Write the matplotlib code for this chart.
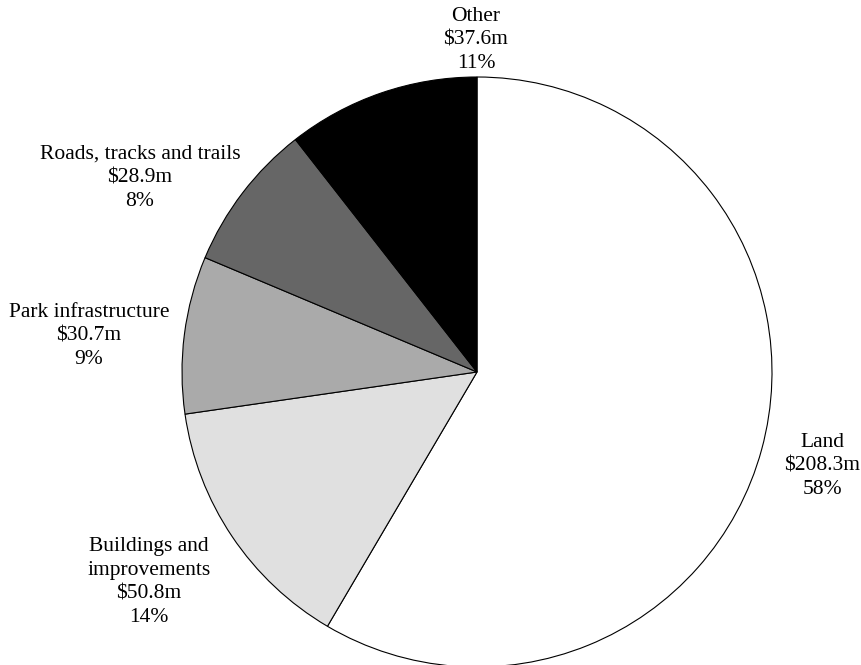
import matplotlib.pyplot as plt

plt.rcParams['font.family'] = 'Liberation Serif'

# capital spend by asset class
categories = ['Land', 'Buildings and\nimprovements', 'Park infrastructure',
              'Roads, tracks and trails', 'Other']
values = [208.3, 50.8, 30.7, 28.9, 37.6]
percents = [58, 14, 9, 8, 11]
colors = ['#ffffff', '#e0e0e0', '#aaaaaa', '#666666', '#000000']

# label anchor points in pixel units (x right, y up)
label_xy = [(822, 199), (149, 83), (89, 329), (140, 487), (476, 625)]

W, H = 861, 665
fig = plt.figure(figsize=(W / 100, H / 100), dpi=100)
ax = fig.add_axes([0, 0, 1, 1])

ax.pie(values, colors=colors, startangle=90, counterclock=False,
       center=(477, H - 372), radius=295, frame=True,
       wedgeprops={'edgecolor': 'black', 'linewidth': 0.8})
ax.set_xlim(0, W)
ax.set_ylim(0, H)
ax.set_aspect('equal')
ax.axis('off')

for name, v, p, (x, y) in zip(categories, values, percents, label_xy):
    ax.text(x, y, '%s\n$%.1fm\n%d%%' % (name, v, p), ha='center', va='center',
            fontsize=15.5, linespacing=1.32)

plt.savefig('out.png', dpi=100)
